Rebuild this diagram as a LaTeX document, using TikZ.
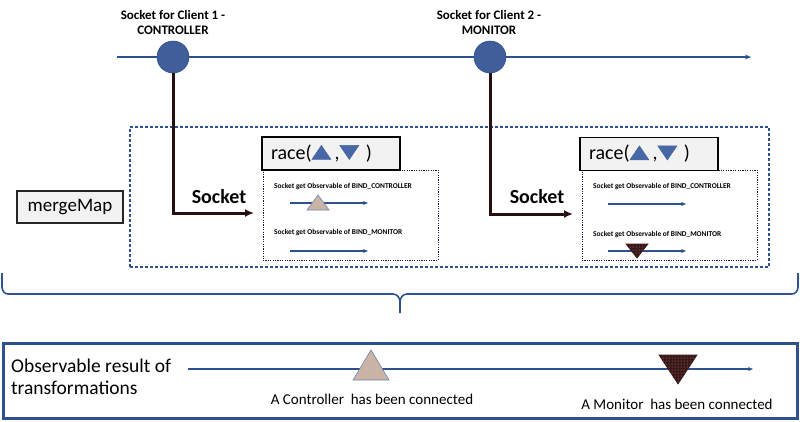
\documentclass[tikz,border=0pt]{standalone}
\usepackage{fontspec}
\setmainfont{Carlito}
\usetikzlibrary{arrows.meta,patterns}
\definecolor{bl}{RGB}{47,82,143}
\definecolor{circ}{RGB}{63,94,154}
\definecolor{dk}{RGB}{40,15,15}
\definecolor{boxfill}{RGB}{242,242,242}
\definecolor{tanc}{RGB}{201,180,166}
\definecolor{dtri}{RGB}{58,22,22}
\definecolor{btri}{RGB}{72,104,165}
\newcommand\tup{\tikz[baseline=0pt]\filldraw[draw=btri,fill=btri,line width=0.6pt] (0pt,0pt) -- (19pt,0pt) -- (9.5pt,14pt) -- cycle;}
\newcommand\tdn{\tikz[baseline=0pt]\filldraw[draw=btri,fill=btri,line width=0.6pt] (0pt,14pt) -- (19pt,14pt) -- (9.5pt,0pt) -- cycle;}
\begin{document}
\begin{tikzpicture}[x=1pt,y=-1pt,
  greybox/.style={draw=black!85, line width=1.2pt, fill=boxfill, inner sep=0pt},
  dashbox/.style={draw=bl, line width=1.5pt, dash pattern=on 3pt off 2pt, inner sep=0pt},
  dotbox/.style={draw=black!70!bl, line width=0.9pt, dash pattern=on 1.2pt off 1.2pt, inner sep=0pt},
  conn/.style={draw=dk, line width=3pt, -{Latex[length=9pt,width=8pt]}},
  tline/.style={draw=bl, line width=1.6pt, -{Stealth[length=6pt,width=5pt]}},
  sline/.style={draw=bl, line width=1.2pt, -{Stealth[length=5pt,width=4pt]}},
  sock/.style={circle, fill=circ, draw=bl, line width=0.6pt, minimum size=32pt, inner sep=0pt},
  toplbl/.style={font=\fontsize{13}{15}\selectfont\bfseries, align=center, inner sep=0pt},
  sockl/.style={font=\fontsize{20}{22}\selectfont\bfseries, text=black!90!dk, inner sep=0pt},
  tiny/.style={font=\fontsize{7.4}{8}\selectfont\bfseries, anchor=west, inner sep=0pt},
  tanT/.style={fill=tanc, draw=bl!70, line width=0.6pt},
  darkT/.style={preaction={fill=dtri}, pattern=dots, pattern color=white!60!dtri, draw=dtri, line width=0.6pt},
  lbl/.style={font=\fontsize{15}{17}\selectfont, inner sep=0pt},
  racebox/.style={greybox, draw=black!80!dk, minimum width=138pt, minimum height=33pt, text width=120pt, align=left, inner xsep=9pt, font=\fontsize{20}{22}\selectfont}
]
\useasboundingbox (0,0) rectangle (800,421);

% top timeline
\coordinate (t0) at (117,57);
\coordinate (t1) at (751,57);
\draw[tline] (t0) -- (t1);
\node[sock] (c1) at (173,57) {};
\node[sock] (c2) at (490,57) {};
\node[toplbl] (l1) at (173,22) {Socket for Client 1 -\\CONTROLLER};
\node[toplbl] (l2) at (489,22) {Socket for Client 2 -\\MONITOR};

% big dashed box
\node[dashbox, minimum width=639pt, minimum height=140pt] (mm) at (449.5,197) {};

% merge map
\node[greybox, minimum width=106pt, minimum height=32pt, font=\fontsize{19}{20}\selectfont] (merge) at (70,207) {mergeMap};

% inner boxes
\node[dotbox, fill=white, minimum width=175pt, minimum height=90pt] (ib1) at (350.5,215) {};
\node[dotbox, fill=white, minimum width=175pt, minimum height=90pt] (ib2) at (669.5,215) {};

% race boxes
\node[racebox] (r1) at (331,153.5) {race(\tup\,,\tdn\ )};
\node[racebox] (r2) at (649,154) {race(\tup\,,\tdn\ )};

% connectors
\coordinate (a1) at (254,213);
\coordinate (a2) at (573,214);
\draw[conn] (c1) |- (a1);
\draw[conn] (c2) |- (a2);
\node[sockl] (s1) at (219,197) {Socket};
\node[sockl] (s2) at (537,197) {Socket};

% inner box 1 content
\node[tiny] (x1) at (274,187) {Socket get Observable of BIND\_CONTROLLER};
\coordinate (x1a) at (290,203);
\coordinate (x1b) at (368,203);
\draw[sline] (x1a) -- (x1b);
\draw[tanT] (307,210) -- (329,210) -- (318,195) -- cycle;
\node[tiny] (y1) at (274,233) {Socket get Observable of BIND\_MONITOR};
\coordinate (y1a) at (290,251);
\coordinate (y1b) at (368,251);
\draw[sline] (y1a) -- (y1b);

% inner box 2 content
\node[tiny] (x2) at (593,187) {Socket get Observable of BIND\_CONTROLLER};
\coordinate (x2a) at (608,204);
\coordinate (x2b) at (686,204);
\draw[sline] (x2a) -- (x2b);
\node[tiny] (y2) at (593,235) {Socket get Observable of BIND\_MONITOR};
\coordinate (y2a) at (608,251);
\coordinate (y2b) at (686,251);
\draw[sline] (y2a) -- (y2b);
\draw[darkT] (626,244) -- (648,244) -- (637,258) -- cycle;

% brace
\draw[bl, line width=1.6pt] (2,273) -- (2,287) to[out=-90,in=180] (8,294) -- (393,294) to[out=0,in=90] (400,302) -- (400,313);
\draw[bl, line width=1.6pt] (400,302) to[out=90,in=180] (407,294) -- (792,294) to[out=0,in=-90] (798,287) -- (798,273);

% bottom box
\node[draw=bl, line width=3pt, fill=white, minimum width=794pt, minimum height=75pt, inner sep=0pt] (res) at (400,380.5) {};
\node[font=\fontsize{19.5}{22}\selectfont, align=left, anchor=west, inner sep=0pt] (rt) at (11,377) {Observable result of\\transformations};
\coordinate (b0) at (188,369);
\coordinate (b1) at (753,369);
\draw[sline, line width=1.4pt] (b0) -- (b1);
\draw[tanT] (353,380) -- (389,380) -- (371,350) -- cycle;
\draw[darkT] (659,355) -- (697,355) -- (678,384) -- cycle;
\node[lbl] (cc) at (372,399) {A Controller \ has been connected};
\node[lbl] (mc) at (677,404) {A Monitor \ has been connected};
\end{tikzpicture}
\end{document}
